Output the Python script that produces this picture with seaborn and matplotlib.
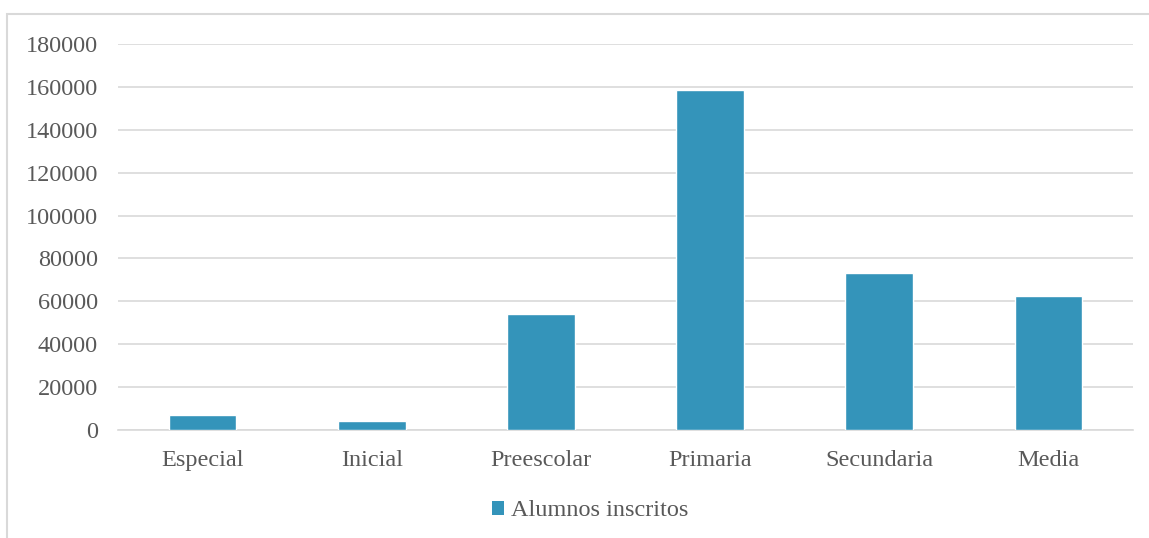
import matplotlib
matplotlib.use("Agg")
import matplotlib.pyplot as plt
import seaborn as sns
import pandas as pd
from matplotlib.patches import Rectangle, Patch

categories = ["Especial", "Inicial", "Preescolar", "Primaria", "Secundaria", "Media"]
alumnos = [6800, 4200, 53900, 158600, 73400, 62500]
yticks = [0, 20000, 40000, 60000, 80000, 100000, 120000, 140000, 160000, 180000]
series_name = "Alumnos inscritos"

df = pd.DataFrame({"Nivel": categories, "Alumnos": alumnos})

sns.set_theme(style="white")
plt.rcParams["font.family"] = ["Liberation Serif", "DejaVu Serif"]

W, H = 1149, 538
fig = plt.figure(figsize=(W / 100, H / 100), dpi=100)
fig.patch.set_facecolor("white")

# outer chart border (cropped at right/bottom)
fig.patches.append(Rectangle((7 / W, -0.1), 1.2, (H - 14) / H + 0.1,
                             transform=fig.transFigure, fill=False,
                             edgecolor="#D9D9D9", linewidth=1.5, zorder=0))

ax = fig.add_axes([118 / W, (H - 430) / H, 1015 / W, 386 / H])
bar_color = "#3494BA"
sns.barplot(data=df, x="Nivel", y="Alumnos", color=bar_color, width=0.4,
            saturation=1, ax=ax, zorder=3)

ax.set_ylim(0, 180000)
ax.set_yticks(yticks)
ax.set_yticklabels([str(v) for v in yticks])
ax.set_xlabel("")
ax.set_ylabel("")
ax.grid(axis="y", color="#D9D9D9", linewidth=1.2, zorder=0)
ax.set_axisbelow(True)
for s in ["top", "right", "left"]:
    ax.spines[s].set_visible(False)
ax.spines["bottom"].set_color("#D9D9D9")
ax.spines["bottom"].set_linewidth(1.2)
ax.tick_params(axis="both", length=0, labelsize=17.5, labelcolor="#595959")
ax.tick_params(axis="y", pad=14.5)
ax.tick_params(axis="x", pad=14.5)

handle = Patch(facecolor=bar_color, edgecolor="none")
fig.legend([handle], [series_name], loc="center",
           bbox_to_anchor=(590 / W, 1 - 511 / H), frameon=False,
           fontsize=17.5, labelcolor="#595959",
           handlelength=0.5, handleheight=0.5, handletextpad=0.3)

fig.savefig("out.png", dpi=100)
